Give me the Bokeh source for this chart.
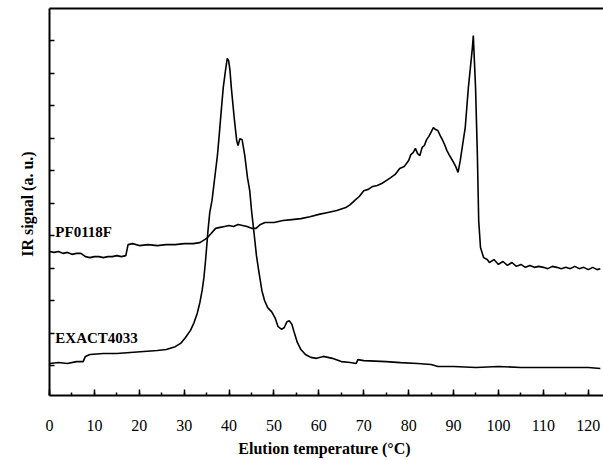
from bokeh.plotting import figure
from bokeh.models import Range1d, FixedTicker, SingleIntervalTicker, LinearAxis, Label
from bokeh.embed import file_html
from bokeh.resources import INLINE

# Elution temperature (deg C) and IR signal (a.u.)
pf_x = [0, 1, 2, 3, 4, 5, 6, 7, 8, 9, 10, 11, 12, 13, 14, 15, 16, 17, 17.5, 18.5,
        20, 22, 24, 26, 28, 30, 32, 33.5, 35, 36, 37, 38, 39, 40, 41, 42, 43, 44,
        45, 46, 47, 48, 50, 52, 54, 56, 58, 60, 62, 64, 66, 67, 68, 69, 70, 71,
        72, 73, 74, 75, 76, 77, 78, 79, 80, 80.5, 81, 81.5, 82, 82.5, 83, 83.5,
        84, 84.5, 85, 85.5, 86, 86.5, 87, 87.5, 88, 88.5, 89, 89.5, 90, 90.5, 91,
        91.5, 92, 92.6, 93.3, 94.2, 94.4, 94.9, 95.3, 95.6, 96, 96.7, 97.5, 98,
        99, 100, 101, 102, 103, 104, 105, 106, 107, 108, 109, 110, 111, 112, 113,
        114, 115, 116, 117, 118, 119, 120, 121, 122, 122.7]
pf_y = [4.51, 4.48, 4.51, 4.45, 4.48, 4.42, 4.45, 4.45, 4.35, 4.32, 4.35, 4.35,
        4.32, 4.35, 4.35, 4.38, 4.35, 4.38, 4.72, 4.75, 4.69, 4.72, 4.69, 4.72,
        4.72, 4.75, 4.75, 4.78, 4.91, 5.06, 5.22, 5.25, 5.28, 5.31, 5.28, 5.34,
        5.31, 5.28, 5.22, 5.22, 5.34, 5.40, 5.40, 5.46, 5.49, 5.52, 5.58, 5.65,
        5.71, 5.77, 5.86, 5.95, 6.08, 6.20, 6.38, 6.42, 6.51, 6.54, 6.60, 6.69,
        6.78, 6.88, 7.06, 7.12, 7.31, 7.49, 7.55, 7.68, 7.52, 7.46, 7.71, 7.77,
        7.95, 8.05, 8.18, 8.32, 8.26, 8.23, 8.08, 7.95, 7.80, 7.62, 7.49, 7.37,
        7.25, 7.12, 6.94, 7.31, 7.77, 8.32, 9.55, 10.78, 11.15, 9.55, 7.52, 5.46,
        4.63, 4.32, 4.26, 4.17, 4.26, 4.11, 4.20, 4.08, 4.17, 4.05, 4.11, 4.02,
        4.08, 4.02, 4.05, 4.02, 3.98, 4.05, 4.02, 3.98, 4.02, 3.98, 4.05, 3.98,
        4.02, 3.95, 4.02, 3.95, 3.98]

ex_x = [0, 2, 4, 6, 7.5, 8, 9, 12, 15, 18, 21, 24, 26, 28, 29.2, 30.3, 31.4,
        32.2, 32.9, 33.5, 34.0, 34.4, 34.7, 35.0, 35.3, 35.7, 36.2, 36.6, 37.0,
        37.4, 37.7, 38.2, 38.7, 39.2, 39.6, 39.9, 40.2, 40.5, 41.2, 41.7, 42.0,
        42.4, 42.9, 43.5, 44.1, 44.6, 45.0, 45.5, 46.1, 46.6, 47.3, 47.9, 48.6,
        49.5, 50.3, 50.9, 51.7, 52.3, 52.9, 53.4, 54.0, 54.5, 55.2, 56.0, 57.0,
        58.2, 59.5, 61, 63, 65, 67, 68.3, 68.7, 70, 75, 78.2, 82, 85, 86.5, 90,
        95, 100, 105, 110, 115, 120, 122.7]
ex_y = [1.06, 1.09, 1.06, 1.12, 1.12, 1.28, 1.34, 1.37, 1.37, 1.40, 1.43, 1.46,
        1.49, 1.58, 1.68, 1.86, 2.08, 2.32, 2.60, 2.94, 3.31, 3.71, 4.14, 4.63,
        5.15, 5.71, 6.08, 6.54, 7.00, 7.46, 7.92, 8.75, 9.55, 10.08, 10.45, 10.38,
        10.08, 9.55, 8.54, 7.92, 7.77, 7.98, 7.95, 7.46, 6.78, 6.38, 5.77, 5.15,
        4.38, 3.92, 3.31, 3.00, 2.78, 2.65, 2.45, 2.20, 2.11, 2.17, 2.35, 2.38,
        2.26, 2.02, 1.71, 1.49, 1.34, 1.25, 1.22, 1.28, 1.22, 1.12, 1.09, 1.06,
        1.18, 1.15, 1.12, 1.09, 1.06, 1.03, 0.97, 0.97, 0.94, 0.97, 0.94, 0.94,
        0.94, 0.94, 0.91]

y_ticks = [1, 2, 3, 4, 5, 6, 7, 8, 9, 10, 11]
series_labels = ["PF0118F", "EXACT4033"]
label_x = [1.3, 1.3]
label_y = [5.12, 1.85]

FONT = "Liberation Serif"

p = figure(width=603, height=460, output_backend="svg", toolbar_location=None,
           x_range=Range1d(0, 123.4), y_range=Range1d(0.077, 11.985),
           min_border_left=49, min_border_right=0, min_border_top=8,
           min_border_bottom=65)
p.outline_line_color = None
p.xgrid.visible = False
p.ygrid.visible = False
p.background_fill_color = "white"
p.border_fill_color = "white"

p.line(pf_x, pf_y, line_color="black", line_width=1.6)
p.line(ex_x, ex_y, line_color="black", line_width=1.6)

for t, lx, ly in zip(series_labels, label_x, label_y):
    p.add_layout(Label(x=lx, y=ly, text=t, text_font=FONT, text_font_style="bold",
                       text_font_size="15px", text_baseline="middle",
                       text_color="black"))

xa = p.xaxis[0]
xa.ticker = SingleIntervalTicker(interval=10, num_minor_ticks=2)
xa.axis_line_width = 2
xa.major_tick_in = 6
xa.major_tick_out = 0
xa.minor_tick_in = 3
xa.minor_tick_out = 0
xa.major_tick_line_width = 1.5
xa.minor_tick_line_width = 1.5
xa.major_label_text_font = FONT
xa.major_label_text_font_size = "16px"
xa.major_label_text_color = "black"
xa.major_label_standoff = 24
xa.axis_label = "Elution temperature  (°C)"
xa.axis_label_text_font = FONT
xa.axis_label_text_font_style = "bold"
xa.axis_label_text_font_size = "16px"
xa.axis_label_text_color = "black"
xa.axis_label_standoff = 6

ya = p.yaxis[0]
ya.ticker = FixedTicker(ticks=y_ticks)
ya.axis_line_width = 2
ya.major_tick_in = 5
ya.major_tick_out = 0
ya.minor_tick_line_color = None
ya.major_tick_line_width = 1.5
ya.major_label_overrides = {t: "" for t in y_ticks}
ya.major_label_standoff = 0
ya.axis_label = "IR signal  (a. u.)"
ya.axis_label_text_font = FONT
ya.axis_label_text_font_style = "bold"
ya.axis_label_text_font_size = "16px"
ya.axis_label_text_color = "black"
ya.axis_label_standoff = 14

top = LinearAxis(ticker=FixedTicker(ticks=[]), axis_line_width=2,
                 major_tick_line_color=None, minor_tick_line_color=None,
                 major_label_standoff=0)
p.add_layout(top, "above")

open("out.html", "w").write(file_html(p, INLINE))
